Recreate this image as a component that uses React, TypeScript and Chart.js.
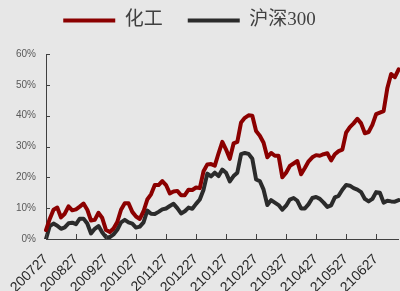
import React, { useEffect, useRef } from 'react';
import { Chart, registerables } from 'chart.js';

Chart.register(...registerables);

const monthLabels = ['200727', '200827', '200927', '201027', '201127', '201227', '210127', '210227', '210327', '210427', '210527', '210627'];
const pointsPerMonth = 8;

const seriesNames = ['化工', '沪深300'];

const chemical = [
  2.9, 6.5, 9.5, 10.2, 7, 8.2, 10.6, 9.3, 9.6, 10.5,
  11.5, 9.5, 6, 6.2, 8.5, 6.8, 2.9, 2.3, 3.4, 5.5,
  9.5, 11.6, 11.6, 8.8, 7.3, 6.5, 9, 12.8, 14.5, 17.5,
  17.5, 18.8, 17.5, 14.8, 15.4, 15.6, 14.2, 14.2, 16, 15.9,
  16.7, 16.5, 22, 24.2, 24.3, 23.8, 27.8, 31.5, 29, 26,
  31, 31.5, 37.8, 39.3, 40.1, 40, 35, 33.5, 31.2, 26.5,
  27.9, 27, 27, 20, 21.5, 23.7, 24.5, 25.3, 21, 23,
  25.2, 26.5, 27.2, 27, 27.5, 27.8, 25.5, 27.5, 28.5, 29,
  34.5, 36.3, 37.5, 39, 37.5, 34.3, 34.7, 37, 40.5, 41,
  41.5, 49, 53.5, 52.5, 55,
];

const hs300 = [
  0, 4.2, 5, 4.3, 3.3, 3.8, 5.1, 5.3, 4.8, 6.6,
  6.6, 5, 1.8, 3.3, 4.2, 2.1, 0.6, 0.6, 1.5, 3,
  5.4, 6.2, 5.4, 5, 3.7, 4, 5.4, 9.2, 8.2, 8.1,
  8.8, 9.6, 9.9, 10.7, 11.4, 10, 8.3, 9, 10.2, 9.8,
  11.4, 12.8, 16, 21.2, 20.3, 21.5, 20.4, 22.5, 21.5, 18.7,
  20.4, 21.5, 27.5, 27.9, 27.6, 26, 19.3, 18.8, 16, 11,
  12.6, 11.8, 11, 9.5, 10.8, 12.8, 13.3, 12.4, 9.9, 9.9,
  11.3, 13.3, 13.6, 13, 11.8, 10.4, 10.9, 13.5, 14, 16,
  17.5, 17.3, 16.5, 16, 15.2, 13, 12.2, 13, 15.2, 15,
  11.8, 12.4, 12.2, 12.1, 12.6,
];

const yTicks = { min: 0, max: 60, step: 10 };

const labels = chemical.map((_, i) => (i % pointsPerMonth === 0 ? monthLabels[i / pointsPerMonth] ?? '' : ''));

const BG = '#e7e7e7';
const AXIS = '#404040';
const SERIF = "'Liberation Serif', 'Times New Roman', 'Noto Sans CJK SC', serif";
const SANS = "'Liberation Sans', Arial, sans-serif";

const bgPlugin = {
  id: 'bgFill',
  beforeDraw(chart: any) {
    const { ctx, width, height } = chart;
    ctx.save();
    ctx.fillStyle = BG;
    ctx.fillRect(0, 0, width, height);
    ctx.restore();
  },
};

const legendFitPlugin = {
  id: 'legendFit',
  beforeInit(chart: any) {
    const orig = chart.legend.fit;
    chart.legend.fit = function fit() {
      orig.call(this);
      this.height = 68;
    };
  },
};

const innerTicksPlugin = {
  id: 'innerTicks',
  afterDraw(chart: any) {
    const { ctx, chartArea } = chart;
    const xs = chart.scales.x;
    const ys = chart.scales.y;
    ctx.save();
    ctx.strokeStyle = AXIS;
    ctx.lineWidth = 1;
    ctx.beginPath();
    xs.ticks.forEach((_: any, i: number) => {
      const px = Math.round(xs.getPixelForTick(i)) + 0.5;
      ctx.moveTo(px, chartArea.bottom);
      ctx.lineTo(px, chartArea.bottom - 5);
    });
    ys.ticks.forEach((_: any, i: number) => {
      const py = Math.round(ys.getPixelForTick(i)) + 0.5;
      ctx.moveTo(chartArea.left, py);
      ctx.lineTo(chartArea.left + 4, py);
    });
    ctx.stroke();
    ctx.restore();
  },
};

export default function App() {
  const ref = useRef<HTMLCanvasElement | null>(null);

  useEffect(() => {
    document.body.style.background = BG;
    document.documentElement.style.background = BG;
    const canvas = ref.current;
    if (!canvas) return;
    const chart = new Chart(canvas, {
      type: 'line',
      data: {
        labels,
        datasets: [
          {
            label: seriesNames[0],
            data: chemical,
            borderColor: '#8b0000',
            backgroundColor: '#8b0000',
            borderWidth: 4,
            pointRadius: 0,
            tension: 0,
            borderJoinStyle: 'round',
            borderCapStyle: 'round',
          },
          {
            label: seriesNames[1],
            data: hs300,
            borderColor: '#2b2b2b',
            backgroundColor: '#2b2b2b',
            borderWidth: 4,
            pointRadius: 0,
            tension: 0,
            borderJoinStyle: 'round',
            borderCapStyle: 'round',
          },
        ],
      },
      options: {
        responsive: false,
        animation: false,
        devicePixelRatio: 1,
        layout: { padding: { top: -14, left: 0, right: 0, bottom: 0 } },
        plugins: {
          legend: {
            position: 'top',
            align: 'center',
            labels: {
              boxWidth: 52,
              boxHeight: 4,
              padding: 25,
              color: '#404040',
              font: { family: SERIF, size: 19 },
              generateLabels: (c: any) =>
                (Chart.defaults.plugins.legend.labels.generateLabels as any)(c).map((l: any) => ({ ...l, lineWidth: 0 })),
            },
          },
          tooltip: { enabled: false },
        },
        scales: {
          x: {
            type: 'category',
            grid: { display: false, drawTicks: false },
            border: { display: true, color: AXIS, width: 1 },
            ticks: {
              autoSkip: false,
              maxRotation: 45,
              minRotation: 45,
              padding: 12,
              color: '#262626',
              font: { family: SANS, size: 14 },
            },
            afterBuildTicks: (s: any) => {
              s.ticks = s.ticks.filter((t: any) => labels[t.value] !== '');
            },
            afterFit: (s: any) => {
              s.height = 52;
            },
          },
          y: {
            min: yTicks.min,
            max: yTicks.max,
            grid: { display: false, drawTicks: false },
            border: { display: true, color: AXIS, width: 1 },
            ticks: {
              stepSize: yTicks.step,
              padding: 10,
              color: '#595959',
              font: { family: SANS, size: 10 },
              callback: (v: any) => `${v}%`,
            },
            afterFit: (s: any) => {
              s.width = 67;
            },
          },
        },
      },
      plugins: [bgPlugin, legendFitPlugin, innerTicksPlugin],
    } as any);
    return () => chart.destroy();
  }, []);

  return (
    <div style={{ position: 'absolute', left: -21, top: 0, width: 421, height: 291, overflow: 'hidden' }}>
      <canvas ref={ref} width={421} height={291} style={{ display: 'block', width: 421, height: 291 }} />
    </div>
  );
}
